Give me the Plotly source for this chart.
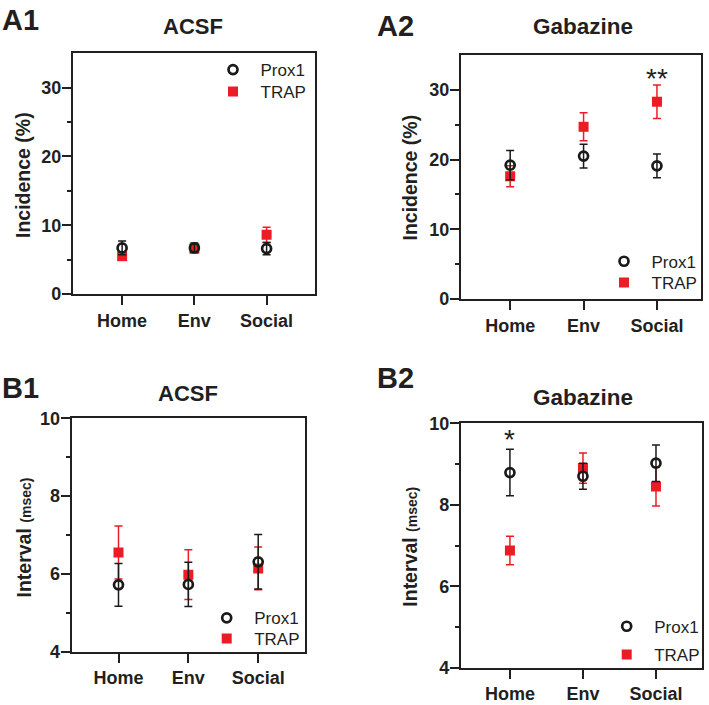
import plotly.graph_objects as go

# ---------------- data ----------------
categories = ["Home", "Env", "Social"]

# A1 ACSF incidence (%)
a1_prox1 = [6.7, 6.7, 6.6]
a1_prox1_err = [1.0, 0.7, 0.9]
a1_trap = [5.5, 6.6, 8.6]
a1_trap_err = [0.4, 0.5, 1.1]

# A2 Gabazine incidence (%)
a2_prox1 = [19.2, 20.5, 19.1]
a2_prox1_err = [2.1, 1.7, 1.7]
a2_trap = [17.6, 24.7, 28.3]
a2_trap_err = [1.5, 2.0, 2.4]

# B1 ACSF interval (msec)
b1_prox1 = [5.72, 5.73, 6.31]
b1_prox1_err = [0.55, 0.57, 0.70]
b1_trap = [6.55, 5.98, 6.14]
b1_trap_err = [0.68, 0.64, 0.55]

# B2 Gabazine interval (msec)
b2_prox1 = [8.79, 8.70, 9.02]
b2_prox1_err = [0.57, 0.32, 0.45]
b2_trap = [6.88, 8.90, 8.45]
b2_trap_err = [0.35, 0.37, 0.48]

# axis ticks
incidence_major = [0, 10, 20, 30]
incidence_minor = [5, 15, 25]
interval_major = [4, 6, 8, 10]
interval_minor = [5, 7, 9]

# ---------------- style ----------------
W, H = 709, 705
FONT = "Liberation Sans, Arial, sans-serif"
TXT = "#231f20"
RED = "#ec1c24"
BLK = "#1a1a1a"


def px_x(v):
    return v / W


def px_y(v):
    return 1 - v / H


fig = go.Figure()

panels = [
    # xaxis, yaxis, minor-tick yaxis, prox, prox_err, trap, trap_err, legend ids
    ("x", "y", "y5", a1_prox1, a1_prox1_err, a1_trap, a1_trap_err, "legend", "legend2"),
    ("x2", "y2", "y6", a2_prox1, a2_prox1_err, a2_trap, a2_trap_err, "legend3", "legend4"),
    ("x3", "y3", "y7", b1_prox1, b1_prox1_err, b1_trap, b1_trap_err, "legend5", "legend6"),
    ("x4", "y4", "y8", b2_prox1, b2_prox1_err, b2_trap, b2_trap_err, "legend7", "legend8"),
]

for xa, ya, ym, pv, pe, tv, te, lg_p, lg_t in panels:
    # empty helper so the minor-tick overlay axis gets drawn
    fig.add_trace(go.Scatter(x=[], y=[], xaxis=xa, yaxis=ym, showlegend=False,
                             hoverinfo="skip", mode="markers"))
    fig.add_trace(go.Scatter(
        x=categories, y=tv, mode="markers", name="TRAP",
        xaxis=xa, yaxis=ya, legend=lg_t, showlegend=True,
        marker=dict(symbol="square", size=10, color=RED, line=dict(width=0)),
        error_y=dict(type="data", array=te, visible=True, color=RED,
                     thickness=1.5, width=4),
    ))
    fig.add_trace(go.Scatter(
        x=categories, y=pv, mode="markers", name="Prox1",
        xaxis=xa, yaxis=ya, legend=lg_p, showlegend=True,
        marker=dict(symbol="circle-open", size=9, color=BLK,
                    line=dict(width=2.7, color=BLK)),
        error_y=dict(type="data", array=pe, visible=True, color=BLK,
                     thickness=1.5, width=4),
    ))

tickfont = dict(family=FONT, size=18, color=TXT, weight="bold")


def xaxis(domain, rng, anchor):
    return dict(domain=domain, range=rng, anchor=anchor, type="category",
                automargin=False,
                showline=True, linewidth=2.2, linecolor=TXT, mirror=True,
                ticks="outside", ticklen=9, tickwidth=2, tickcolor=TXT,
                showgrid=False, zeroline=False, tickfont=tickfont,
                categoryorder="array", categoryarray=categories)


def yaxis(domain, rng, major, anchor):
    return dict(domain=domain, range=rng, anchor=anchor, automargin=False,
                showline=True, linewidth=2.2, linecolor=TXT, mirror=True,
                ticks="outside", ticklen=9, tickwidth=2, tickcolor=TXT,
                tickmode="array", tickvals=major, ticklabelstandoff=-3,
                showgrid=False, zeroline=False, tickfont=tickfont)


def minor_axis(over, rng, minor, anchor):
    return dict(overlaying=over, range=rng, anchor=anchor, side="left",
                automargin=False, showline=False, showgrid=False,
                zeroline=False, showticklabels=False,
                ticks="outside", ticklen=5, tickwidth=2, tickcolor=TXT,
                tickmode="array", tickvals=minor)


layout = dict(
    width=W, height=H, margin=dict(l=0, r=0, t=0, b=0, autoexpand=False),
    paper_bgcolor="white", plot_bgcolor="white", showlegend=True,
    font=dict(family=FONT, color=TXT),
    xaxis=xaxis([px_x(73), px_x(315)], [-0.68, 2.67], "y"),
    yaxis=yaxis([px_y(294), px_y(53.3)], [0, 35], incidence_major, "x"),
    xaxis2=xaxis([px_x(461), px_x(701)], [-0.67, 2.6], "y2"),
    yaxis2=yaxis([px_y(299), px_y(55)], [0, 35], incidence_major, "x2"),
    xaxis3=xaxis([px_x(71.7), px_x(305)], [-0.67, 2.67], "y3"),
    yaxis3=yaxis([px_y(651.7), px_y(418.3)], [4, 10], interval_major, "x3"),
    xaxis4=xaxis([px_x(461), px_x(702)], [-0.67, 2.63], "y4"),
    yaxis4=yaxis([px_y(667.7), px_y(423.3)], [4, 10], interval_major, "x4"),
    yaxis5=minor_axis("y", [0, 35], incidence_minor, "x"),
    yaxis6=minor_axis("y2", [0, 35], incidence_minor, "x2"),
    yaxis7=minor_axis("y3", [4, 10], interval_minor, "x3"),
    yaxis8=minor_axis("y4", [4, 10], interval_minor, "x4"),
)

legfont = dict(family=FONT, size=17, color=TXT)

# legend symbol centre relative to legend anchor (px)
IW = 45
SX, SY = IW / 2 + 5, 18


def legend(cx, cy):
    return dict(x=px_x(cx - SX), y=px_y(cy - SY), xanchor="left", yanchor="top",
                bgcolor="rgba(0,0,0,0)", borderwidth=0, font=legfont,
                itemwidth=IW, visible=True)


legend_pos = {
    "legend": (233, 70), "legend2": (233, 92),
    "legend3": (624, 261.7), "legend4": (624, 283),
    "legend5": (226.7, 618.3), "legend6": (226.7, 639),
    "legend7": (626.7, 626.7), "legend8": (626.7, 655),
}
for k, (cx, cy) in legend_pos.items():
    layout[k] = legend(cx, cy)

fig.update_layout(**layout)

ann = []


def text(x, y, s, size, bold=True, angle=0):
    ann.append(dict(x=px_x(x), y=px_y(y), xref="paper", yref="paper",
                    text=(f"<b>{s}</b>" if bold else s), showarrow=False,
                    textangle=angle, xanchor="center", yanchor="middle",
                    font=dict(family=FONT, size=size, color=TXT)))


def label(x, y, s):
    ann.append(dict(x=px_x(x), y=px_y(y), xref="paper", yref="paper",
                    text=f"<b>{s}</b>", showarrow=False, xanchor="left",
                    yanchor="middle", font=dict(family=FONT, size=29, color=TXT)))


# panel labels
label(0, 20, "A1")
label(375, 26, "A2")
label(0, 388, "B1")
label(375, 377.5, "B2")

# panel titles
text(193, 27, "ACSF", 22)
text(583, 27, "Gabazine", 22.5)
text(188, 393, "ACSF", 22)
text(583, 397, "Gabazine", 22.5)

# y-axis titles
text(23, 175, "Incidence (%)", 19.5, angle=-90)
text(410, 177.5, "Incidence (%)", 19.5, angle=-90)
interval = "<b>Interval</b> <b><span style='font-size:14px'>(msec)</span></b>"
for xx, yy in [(23, 537.5), (410, 546.7)]:
    ann.append(dict(x=px_x(xx), y=px_y(yy), xref="paper", yref="paper",
                    text=interval, showarrow=False, textangle=-90,
                    xanchor="center", yanchor="middle",
                    font=dict(family=FONT, size=19.5, color=TXT)))

# significance marks
ann.append(dict(x="Social", y=31.6, xref="x2", yref="y2", text="**",
                showarrow=False, font=dict(family=FONT, size=28, color=TXT)))
ann.append(dict(x="Home", y=9.6, xref="x4", yref="y4", text="*",
                showarrow=False, font=dict(family=FONT, size=28, color=TXT)))

fig.update_layout(annotations=ann)

fig.write_html("out.html")
